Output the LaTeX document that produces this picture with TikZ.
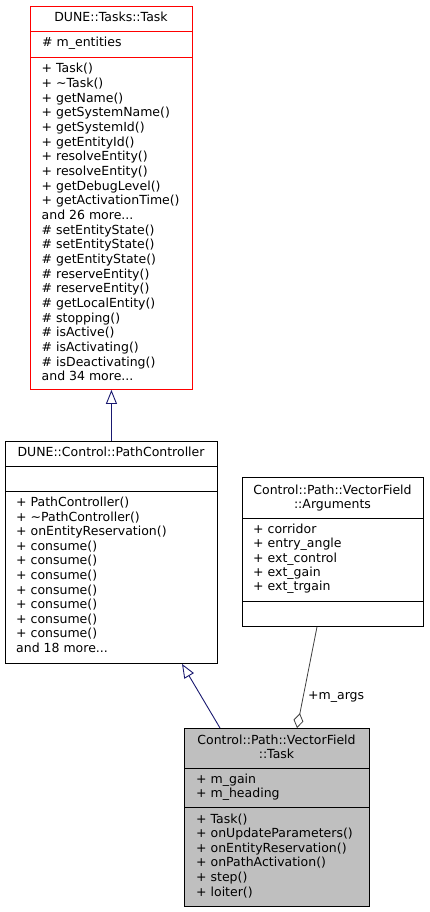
\documentclass[tikz,border=0pt]{standalone}
\usepackage{fontspec}
\setmainfont{DejaVu Sans}
\usetikzlibrary{arrows.meta}
\definecolor{edgeblue}{HTML}{191970}
\definecolor{aggray}{HTML}{404040}
\definecolor{boxgray}{HTML}{BFBFBF}
\tikzset{
  umlbox/.style={draw=black, line width=0.9pt, fill=white, inner sep=0pt, anchor=north west},
  txt/.style={inner sep=0pt, anchor=base west, font=\fontsize{12.5}{14.6}\selectfont},
  ctxt/.style={inner sep=0pt, anchor=base, font=\fontsize{12.5}{14.6}\selectfont},
  divider/.style={draw=black, line width=0.9pt},
  inh/.style={draw=edgeblue, line width=0.9pt, -{Triangle[open,length=14pt,width=11pt]}},
  agg/.style={draw=aggray, line width=0.8pt, -{Diamond[open,length=15pt,width=10pt]}},
}
\begin{document}
\begin{tikzpicture}[x=1pt,y=-1pt]
\fill[white] (0,0) rectangle (429,912);
\useasboundingbox (0,0) rectangle (429,912);

% ---- DUNE::Tasks::Task
\node[umlbox, draw=red, minimum width=162pt, minimum height=383pt] (task) at (30,6) {};
\draw[divider, draw=red] (task.west |- 0,31) -- (task.east |- 0,31);
\draw[divider, draw=red] (task.west |- 0,57) -- (task.east |- 0,57);
\node[ctxt] (taskh) at (111,22) {DUNE::Tasks::Task};
\node[txt] (taska) at (42,47) {\# m\_entities};
\foreach \t [count=\i] in {+ Task(), + \textasciitilde Task(), + getName(), + getSystemName(),
  + getSystemId(), + getEntityId(), + resolveEntity(), + resolveEntity(), + getDebugLevel(),
  + getActivationTime(), {and 26 more.{}.{}.}, \# setEntityState(), \# setEntityState(),
  \# getEntityState(), \# reserveEntity(), \# reserveEntity(), \# getLocalEntity(),
  \# stopping(), \# isActive(), \# isActivating(), \# isDeactivating(), {and 34 more.{}.{}.}}
  \node[txt] (taskm\i) at ({41.5},{72.7+14.67*(\i-1)}) {\t};

% ---- DUNE::Control::PathController
\node[umlbox, minimum width=212pt, minimum height=222pt] (pc) at (5,441) {};
\draw[divider] (pc.west |- 0,466) -- (pc.east |- 0,466);
\draw[divider] (pc.west |- 0,491) -- (pc.east |- 0,491);
\node[ctxt] (pch) at (111,456) {DUNE::Control::PathController};
\foreach \t [count=\i] in {+ PathController(), + \textasciitilde PathController(),
  + onEntityReservation(), + consume(), + consume(), + consume(), + consume(),
  + consume(), + consume(), + consume(), {and 18 more.{}.{}.}}
  \node[txt] (pcm\i) at ({16},{506.7+14.56*(\i-1)}) {\t};

% ---- Control::Path::VectorField::Arguments
\node[umlbox, minimum width=181pt, minimum height=149pt] (args) at (242,477) {};
\draw[divider] (args.west |- 0,518) -- (args.east |- 0,518);
\draw[divider] (args.west |- 0,601) -- (args.east |- 0,601);
\node[ctxt] (argsh1) at (332.5,494) {Control::Path::VectorField};
\node[ctxt] (argsh2) at (332.5,508) {::Arguments};
\foreach \t [count=\i] in {+ corridor, + entry\_angle, + ext\_control, + ext\_gain, + ext\_trgain}
  \node[txt] (argsa\i) at ({253},{533.3+14.4*(\i-1)}) {\t};

% ---- Control::Path::VectorField::Task
\node[umlbox, fill=boxgray, minimum width=185pt, minimum height=178pt] (vft) at (184,728) {};
\draw[divider] (vft.west |- 0,768) -- (vft.east |- 0,768);
\draw[divider] (vft.west |- 0,807) -- (vft.east |- 0,807);
\node[ctxt] (vfth1) at (276.5,744) {Control::Path::VectorField};
\node[ctxt] (vfth2) at (276.5,758) {::Task};
\node[txt] (vfta1) at (196,783.3) {+ m\_gain};
\node[txt] (vfta2) at (196,797.7) {+ m\_heading};
\foreach \t [count=\i] in {+ Task(), + onUpdateParameters(), + onEntityReservation(),
  + onPathActivation(), + step(), + loiter()}
  \node[txt] (vftm\i) at ({196},{823.3+14.54*(\i-1)}) {\t};

% ---- connectors
\draw[inh] (pc.north) -- (task.south);
\draw[inh] (vft.north -| 220,0) -- (pc.south -| 182,0);
\draw[agg] (args.south -| 317,0) -- (vft.north -| 297,0);
\node[txt] (lbl) at (308,699) {+m\_args};
\end{tikzpicture}
\end{document}
